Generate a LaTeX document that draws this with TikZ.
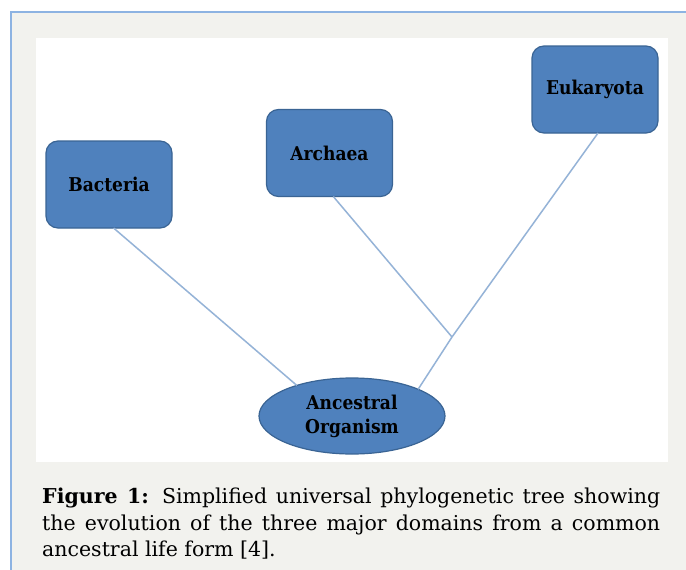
\documentclass[tikz,border=0pt]{standalone}
\usepackage{fontspec}
\usetikzlibrary{shapes.geometric}
\newfontfamily\boxfont{DejaVu Serif Condensed}
\newfontfamily\capfont{DejaVu Serif}
\definecolor{domainfill}{HTML}{4F81BD}
\definecolor{domaindraw}{HTML}{3A6494}
\definecolor{branch}{HTML}{95B3D7}
\definecolor{panelgray}{HTML}{F2F2EE}
\definecolor{rulerblue}{HTML}{8DB3E2}
\begin{document}
\begin{tikzpicture}[x=1pt,y=-1pt]
\tikzstyle{domainbox} = [font=\boxfont\bfseries\fontsize{19}{22}\selectfont,fill=domainfill,draw=domaindraw,line width=1.2,rounded corners=12,minimum width=126,minimum height=87,inner sep=0,outer sep=0];
\tikzstyle{rootnode} = [font=\boxfont\bfseries\fontsize{19}{24}\selectfont,ellipse,align=center,fill=domainfill,draw=domaindraw,line width=1.2,minimum width=186,minimum height=76,inner sep=0,outer sep=0];
\tikzstyle{brn} = [draw=branch,line width=1.5];
\useasboundingbox (0,0) rectangle (686,570);
\fill[panelgray] (11,12) rectangle (686,570);
\draw[rulerblue,line width=1.2] (11,570) -- (11,12) -- (686,12);
\fill[white] (36,38) rectangle (668,462);
\node [domainbox] (bac) at (109,184.5) {Bacteria};
\node [domainbox] (arc) at (329.5,153) {Archaea};
\node [domainbox] (euk) at (595,89.5) {Eukaryota};
\node [rootnode] (anc) at (352,416) {Ancestral\\Organism};
\coordinate (j) at (452,337);
\draw [brn] (bac.-84) -- (anc.151);
\draw [brn] (arc.-85) -- (j);
\draw [brn] (euk.-86) -- (j) -- (anc.22);
\node [anchor=north west,inner sep=0,text width=618,align=justify,font=\capfont\fontsize{20.5}{26.5}\selectfont] (cap) at (42,488)
  {\textbf{Figure 1:} Simplified universal phylogenetic tree showing\linebreak the evolution of the three major domains from a common\linebreak ancestral life form [4].};
\end{tikzpicture}
\end{document}
